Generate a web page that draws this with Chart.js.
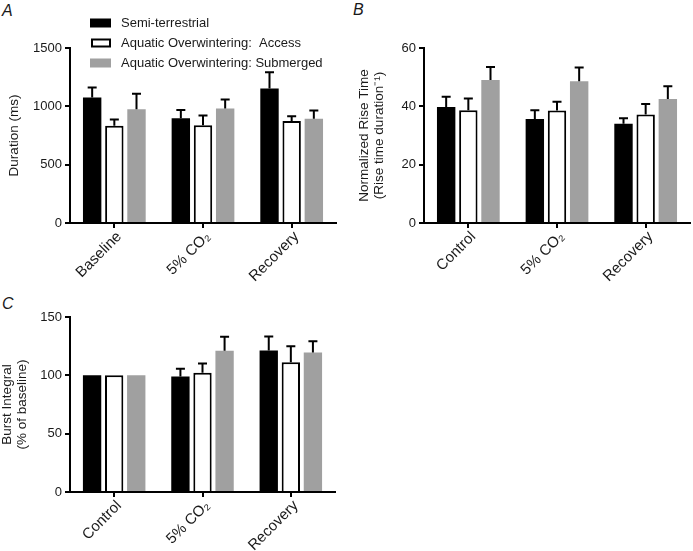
<!DOCTYPE html>
<html>
<head>
<meta charset="utf-8">
<script src="https://cdn.jsdelivr.net/npm/chart.js@4.4.1/dist/chart.umd.min.js"></script>
<style>
  body { margin: 0; background: #fff; width: 693px; height: 551px; position: relative; overflow: hidden; }
  canvas { position: absolute; }
  .panel { position: absolute; font: italic 16px "Liberation Sans", Arial, sans-serif; line-height: 16px; color: #1a1a1a; }
</style>
</head>
<body>
<div class="panel" style="left:2px;top:3px">A</div>
<div class="panel" style="left:353px;top:2px">B</div>
<div class="panel" style="left:2px;top:296px">C</div>
<canvas id="chartA" width="346" height="290" style="left:0;top:0"></canvas>
<canvas id="chartB" width="347" height="290" style="left:346px;top:0"></canvas>
<canvas id="chartC" width="346" height="261" style="left:0;top:290px"></canvas>
<script>
const seriesNames = ["Semi-terrestrial", "Aquatic Overwintering:  Access", "Aquatic Overwintering: Submerged"];
const categoriesA = ["Baseline", "5% CO₂", "Recovery"];
const categoriesBC = ["Control", "5% CO₂", "Recovery"];

// A: duration (ms), mean and SEM
const durationSemi = [1076, 897, 1153];
const durationSemiErr = [86, 71, 139];
const durationAccess = [834, 837, 874];
const durationAccessErr = [54, 85, 40];
const durationSubm = [976, 982, 894];
const durationSubmErr = [131, 77, 71];

// B: normalized rise time
const riseSemi = [39.8, 35.7, 34.0];
const riseSemiErr = [3.5, 3.0, 1.9];
const riseAccess = [38.7, 38.6, 37.2];
const riseAccessErr = [4.0, 3.0, 3.6];
const riseSubm = [49.0, 48.6, 42.5];
const riseSubmErr = [4.5, 4.7, 4.4];

// C: burst integral (% of baseline)
const burstSemi = [100, 99, 121.3];
const burstSemiErr = [0, 6.6, 12];
const burstAccess = [100, 102.2, 111.3];
const burstAccessErr = [0, 8, 13.7];
const burstSubm = [100, 121, 119.6];
const burstSubmErr = [0, 12, 9.7];

const FONT = "'Liberation Sans', Arial, sans-serif";
const INK = "#1a1a1a";
const GREY = "#a0a0a0";

function makeDatasets(a, aErr, b, bErr, c, cErr) {
  const common = { barPercentage: 0.83, categoryPercentage: 0.75 };
  return [
    Object.assign({ label: seriesNames[0], data: a, err: aErr, backgroundColor: "#000", borderWidth: 0 }, common),
    Object.assign({ label: seriesNames[1], data: b, err: bErr, backgroundColor: "#fff", borderColor: "#000", borderWidth: 2, borderSkipped: "start" }, common),
    Object.assign({ label: seriesNames[2], data: c, err: cErr, backgroundColor: GREY, borderWidth: 0 }, common),
  ];
}

// upward SEM bars drawn through the y scale
const errorBars = {
  id: "errorBars",
  afterDatasetsDraw(chart) {
    const ctx = chart.ctx;
    const y = chart.scales.y;
    ctx.save();
    ctx.strokeStyle = "#000";
    ctx.lineWidth = 2;
    chart.data.datasets.forEach((ds, i) => {
      chart.getDatasetMeta(i).data.forEach((bar, j) => {
        const e = ds.err[j];
        if (!e) return;
        const top = y.getPixelForValue(ds.data[j] + e);
        ctx.beginPath();
        ctx.moveTo(bar.x, bar.y);
        ctx.lineTo(bar.x, top);
        ctx.moveTo(bar.x - 4.5, top);
        ctx.lineTo(bar.x + 4.5, top);
        ctx.stroke();
      });
    });
    ctx.restore();
  },
};

// legend box inside panel A
const insideLegend = {
  id: "insideLegend",
  afterDraw(chart) {
    const ctx = chart.ctx;
    ctx.save();
    ctx.font = "13px " + FONT;
    ctx.textBaseline = "middle";
    chart.data.datasets.forEach((ds, i) => {
      const cy = 23 + i * 20;
      if (ds.borderWidth) {
        ctx.fillStyle = ds.backgroundColor;
        ctx.fillRect(91, cy - 4.5, 20, 9);
        ctx.strokeStyle = ds.borderColor;
        ctx.lineWidth = 2;
        ctx.strokeRect(92, cy - 3.5, 18, 7);
      } else {
        ctx.fillStyle = ds.backgroundColor;
        ctx.fillRect(90, cy - 4.5, 21, 9);
      }
      ctx.fillStyle = INK;
      ctx.fillText(ds.label, 121, cy + 0.5);
    });
    ctx.restore();
  },
};

function makeOptions(o) {
  return {
    responsive: false,
    animation: false,
    layout: { padding: { left: 0, top: o.top, right: o.right, bottom: 0 } },
    plugins: { legend: { display: false }, tooltip: { enabled: false } },
    scales: {
      x: {
        offset: true,
        grid: { display: true, drawOnChartArea: false, drawTicks: true, tickLength: 5, offset: false, color: "#000", lineWidth: 2 },
        border: { display: true, color: "#000", width: 2 },
        ticks: { color: INK, font: { family: FONT, size: 15 }, minRotation: 45, maxRotation: 45, autoSkip: false, padding: 0, labelOffset: 5 },
        afterFit(scale) { scale.height = o.xHeight; },
      },
      y: {
        min: 0,
        max: o.max,
        grid: { display: true, drawOnChartArea: false, drawTicks: true, tickLength: 5, color: "#000", lineWidth: 2 },
        border: { display: true, color: "#000", width: 2 },
        ticks: { stepSize: o.step, color: INK, font: { family: FONT, size: 13 }, padding: 3, callback: (v) => String(v) },
        title: { display: true, text: o.title, color: INK, font: { family: FONT, size: 13.5, lineHeight: 1.1 }, padding: { top: o.titlePad, bottom: 0 } },
        afterFit(scale) { scale.width = o.yWidth; },
      },
    },
  };
}

new Chart(document.getElementById("chartA"), {
  type: "bar",
  data: { labels: categoriesA, datasets: makeDatasets(durationSemi, durationSemiErr, durationAccess, durationAccessErr, durationSubm, durationSubmErr) },
  options: makeOptions({ top: 48, right: 10, xHeight: 67, yWidth: 70, max: 1500, step: 500, title: "Duration (ms)", titlePad: 7 }),
  plugins: [errorBars, insideLegend],
});

new Chart(document.getElementById("chartB"), {
  type: "bar",
  data: { labels: categoriesBC, datasets: makeDatasets(riseSemi, riseSemiErr, riseAccess, riseAccessErr, riseSubm, riseSubmErr) },
  options: makeOptions({ top: 48, right: 3, xHeight: 67, yWidth: 78, max: 60, step: 20, title: ["Normalized Rise Time", "(Rise time duration⁻¹)"], titlePad: 11 }),
  plugins: [errorBars],
});

new Chart(document.getElementById("chartC"), {
  type: "bar",
  data: { labels: categoriesBC, datasets: makeDatasets(burstSemi, burstSemiErr, burstAccess, burstAccessErr, burstSubm, burstSubmErr) },
  options: makeOptions({ top: 27, right: 11, xHeight: 59, yWidth: 70, max: 150, step: 50, title: ["Burst Integral", "(% of baseline)"], titlePad: 0 }),
  plugins: [errorBars],
});
</script>
</body>
</html>
